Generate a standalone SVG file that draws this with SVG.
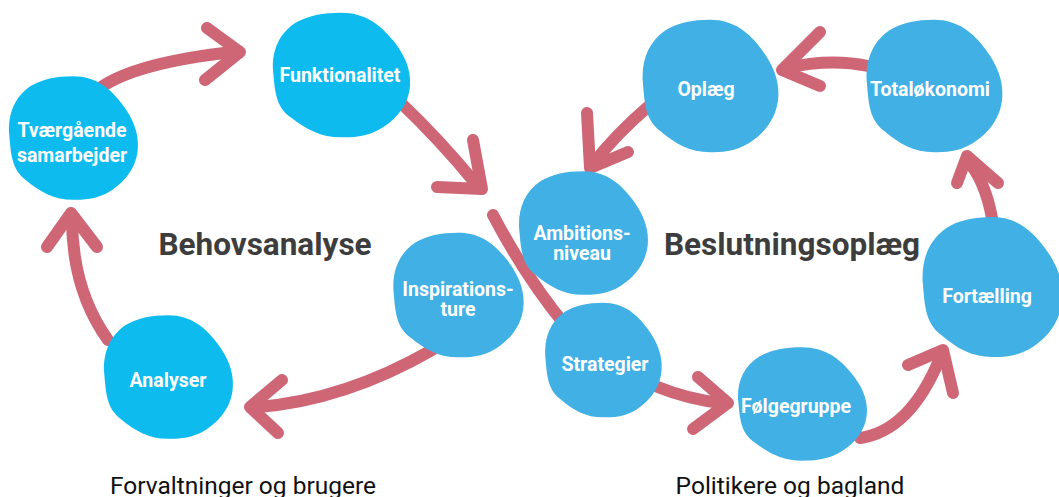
<svg xmlns="http://www.w3.org/2000/svg" xmlns:xlink="http://www.w3.org/1999/xlink" width="1059" height="497" viewBox="0 0 1059 497">
<style>
.bg{fill:#ffffff}
.c1{fill:#0DBBEE}
.c2{fill:#41B0E5}
.lbl{font-family:Roboto,"Liberation Sans",sans-serif;font-weight:700;font-size:19.5px;fill:#ffffff;text-anchor:middle}
.title{font-family:Roboto,"Liberation Sans",sans-serif;font-weight:700;font-size:31.5px;fill:#3d3d3d;text-anchor:middle}
.sub{font-family:Roboto,"Liberation Sans",sans-serif;font-weight:400;font-size:24.5px;fill:#111111;text-anchor:middle}
.ln{fill:none;stroke:#CE6676;stroke-width:12;stroke-linecap:round;stroke-linejoin:round}
</style>
<defs>
<path id="blob" d="M0,-63 C25,-63 40,-50 52,-35 C64,-20 70,-5 69,10 C68,30 55,45 40,54 C25,63 10,63 0,63 C-20,63 -35,55 -50,43 C-66,32 -66,15 -68,-5 C-69,-25 -62,-42 -45,-53 C-33,-60 -18,-63 0,-63 Z"/>
</defs>
<rect class="bg" x="0" y="0" width="1059" height="497"/>
<g id="connectors">
<path class="ln" d="M100,88 Q135,63 232,52"/>
<path class="ln" d="M207,28 L240,52 L205,80"/>
<path class="ln" d="M400,102 Q440,140 476,184"/>
<path class="ln" d="M473,140 L482,189 L437,187"/>
<path class="ln" d="M493,215 Q525,276 565,325"/>
<path class="ln" d="M432,350 Q345,400 258,407"/>
<path class="ln" d="M282,380 L250,407 L278,433"/>
<path class="ln" d="M108,340 Q72,290 72,218"/>
<path class="ln" d="M47,247 L71,213 L97,247"/>
<path class="ln" d="M868,66 Q830,58 786,68"/>
<path class="ln" d="M820,32 L782,70 L820,86"/>
<path class="ln" d="M650,105 Q615,135 593,164"/>
<path class="ln" d="M587,113 L590,168 L628,152"/>
<path class="ln" d="M655,386 Q690,400 722,403"/>
<path class="ln" d="M698,377 L728,403 L693,429"/>
<path class="ln" d="M860,438 Q910,431 940,358"/>
<path class="ln" d="M908,365 L943,350 L953,393"/>
<path class="ln" d="M992,218 Q985,180 967,160"/>
<path class="ln" d="M957,183 L967,156 L998,183"/>
</g>
<g id="tvaergaaende">
<use xlink:href="#blob" class="c1" transform="translate(73,138) scale(0.94,0.98)"/>
<text class="lbl" x="72" y="137">Tværgående</text>
<text class="lbl" x="72" y="162">samarbejder</text>
</g>
<g id="funktionalitet">
<use xlink:href="#blob" class="c1" transform="translate(341,75) scale(1.0,0.99)"/>
<text class="lbl" x="340" y="82">Funktionalitet</text>
</g>
<g id="analyser">
<use xlink:href="#blob" class="c1" transform="translate(168,377) scale(0.94,0.98)"/>
<text class="lbl" x="168" y="387">Analyser</text>
</g>
<g id="inspirationsture">
<use xlink:href="#blob" class="c2" transform="translate(458,295) scale(0.95,0.99)"/>
<text class="lbl" x="458" y="296">Inspirations-</text>
<text class="lbl" x="458" y="316">ture</text>
</g>
<g id="ambitionsniveau">
<use xlink:href="#blob" class="c2" transform="translate(583,233) scale(0.94,0.98)"/>
<text class="lbl" x="582" y="240">Ambitions-</text>
<text class="lbl" x="582" y="260">niveau</text>
</g>
<g id="strategier">
<use xlink:href="#blob" class="c2" transform="translate(603,360) scale(0.85,0.91)"/>
<text class="lbl" x="605" y="371">Strategier</text>
</g>
<g id="oplaeg">
<use xlink:href="#blob" class="c2" transform="translate(710,86) scale(0.99,1.05)"/>
<text class="lbl" x="706" y="96">Oplæg</text>
</g>
<g id="totaloekonomi">
<use xlink:href="#blob" class="c2" transform="translate(934,86) scale(0.99,1.05)"/>
<text class="lbl" x="930" y="96">Totaløkonomi</text>
</g>
<g id="fortaelling">
<use xlink:href="#blob" class="c2" transform="translate(992,287) scale(1.02,1.11)"/>
<text class="lbl" x="987" y="303">Fortælling</text>
</g>
<g id="foelgegruppe">
<use xlink:href="#blob" class="c2" transform="translate(802,404) scale(0.94,0.9)"/>
<text class="lbl" x="796" y="413">Følgegruppe</text>
</g>
<g id="titles">
<text class="title" x="265" y="255">Behovsanalyse</text>
<text class="title" x="792" y="255">Beslutningsoplæg</text>
<text class="sub" x="243" y="494">Forvaltninger og brugere</text>
<text class="sub" x="790" y="494">Politikere og bagland</text>
</g>
</svg>
